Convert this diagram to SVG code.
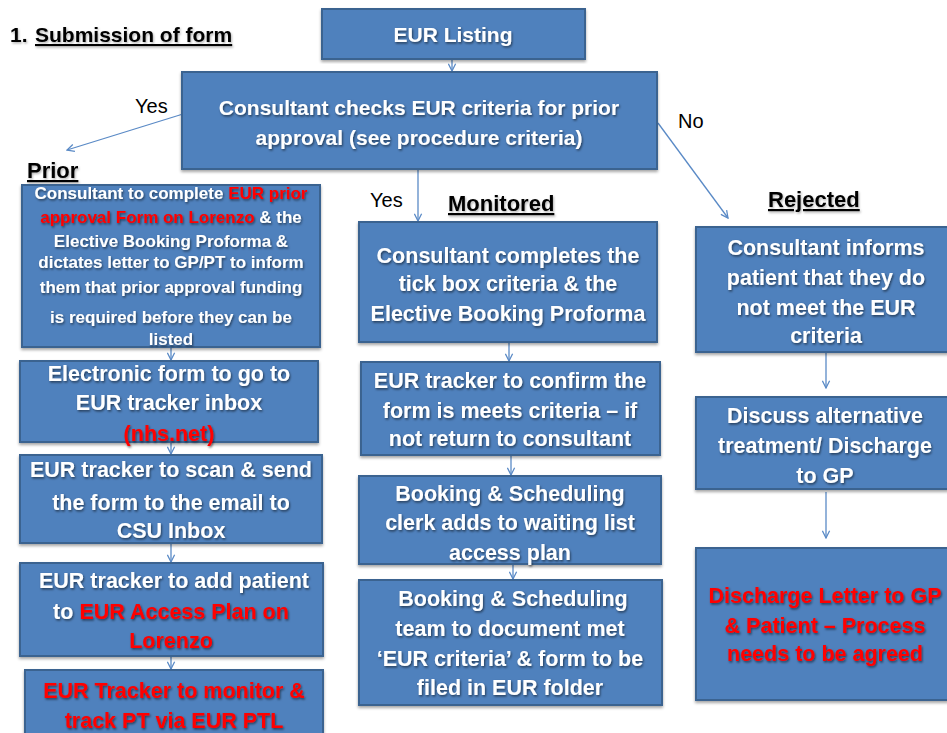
<svg xmlns="http://www.w3.org/2000/svg" width="947" height="733" viewBox="0 0 947 733">
<style>
.box{fill:#4F81BD;stroke:#3A6390;stroke-width:2}
.t{font-family:"Liberation Sans",Arial,sans-serif;font-weight:bold;fill:#fff;text-anchor:middle;filter:url(#ts)}
.r{fill:#F00}
.lbl{font-family:"Liberation Sans",Arial,sans-serif;font-size:20px;fill:#000}
.hd{font-family:"Liberation Sans",Arial,sans-serif;font-size:22px;font-weight:bold;fill:#000;text-decoration:underline;filter:url(#ts2)}
.c{fill:none;stroke:#5A8AC6;stroke-width:1.3;marker-end:url(#ah)}
</style>
<defs>
<marker id="ah" viewBox="0 0 10 10" refX="9" refY="5" markerWidth="9" markerHeight="9" orient="auto" markerUnits="userSpaceOnUse">
<path d="M1,1 L9,5 L1,9" fill="none" stroke="#5A8AC6" stroke-width="1.4"/>
</marker>
<filter id="ts" x="-10%" y="-30%" width="120%" height="160%"><feDropShadow dx="1" dy="1.5" stdDeviation="0.8" flood-color="#000" flood-opacity="0.55"/></filter>
<filter id="ts2" x="-10%" y="-30%" width="120%" height="160%"><feDropShadow dx="1" dy="1.5" stdDeviation="0.8" flood-color="#000" flood-opacity="0.3"/></filter>
<filter id="bs" x="-5%" y="-5%" width="110%" height="115%"><feDropShadow dx="0" dy="2" stdDeviation="1.5" flood-color="#000" flood-opacity="0.35"/></filter>
</defs>
<rect width="947" height="733" fill="#fff"/>
<text class="hd" x="10" y="42" font-size="21" style="text-decoration:none;font-size:21px">1.</text>
<text class="hd" x="35" y="42" style="font-size:21px">Submission of form</text>
<text class="lbl" x="135" y="113">Yes</text>
<text class="lbl" x="678" y="128">No</text>
<text class="lbl" x="370" y="207">Yes</text>
<text class="hd" x="27" y="178">Prior</text>
<text class="hd" x="448" y="211">Monitored</text>
<text class="hd" x="768" y="207">Rejected</text>
<g id="connectors">
<path class="c" d="M452,59 V71"/>
<path class="c" d="M183,114 L67,150"/>
<path class="c" d="M418,169 V221"/>
<path class="c" d="M658,123 L728,218"/>
<path class="c" d="M171,347 V360"/>
<path class="c" d="M171,442 V454"/>
<path class="c" d="M171,543 V562"/>
<path class="c" d="M171,656 V669"/>
<path class="c" d="M509,342 V361"/>
<path class="c" d="M511,455 V475"/>
<path class="c" d="M513,564 V579"/>
<path class="c" d="M826,352 V388"/>
<path class="c" d="M826,492 V538"/>
</g>
<g id="n_listing"><rect class="box" x="322" y="9" width="263" height="50" filter="url(#bs)"/><text class="t" x="453" y="42" font-size="21">EUR Listing</text></g>
<g id="n_check"><rect class="box" x="182" y="72" width="475" height="97" filter="url(#bs)"/>
<text class="t" x="419" y="115" font-size="21">Consultant checks EUR criteria for prior</text>
<text class="t" x="419" y="145" font-size="21">approval (see procedure criteria)</text></g>
<g id="n_prior1"><rect class="box" x="22" y="185" width="298" height="162" filter="url(#bs)"/>
<g class="t" font-size="17">
<text x="171" y="199">Consultant to complete <tspan class="r">EUR prior</tspan></text>
<text x="171" y="223"><tspan class="r">approval Form on Lorenzo</tspan> &amp; the</text>
<text x="171" y="247">Elective Booking  Proforma  &amp;</text>
<text x="171" y="268">dictates letter to GP/PT to inform</text>
<text x="171" y="293">them that prior approval  funding</text>
<text x="171" y="323">is required before they can be</text>
<text x="171" y="345">listed</text></g></g>
<g id="n_prior2"><rect class="box" x="20" y="361" width="298" height="81" filter="url(#bs)"/>
<g class="t" font-size="21.5"><text x="169" y="381">Electronic form to go to</text><text x="169" y="410">EUR tracker inbox</text><text x="169" y="441" class="r">(nhs.net)</text></g></g>
<g id="n_prior3"><rect class="box" x="20" y="455" width="302" height="88" filter="url(#bs)"/>
<g class="t" font-size="21.5"><text x="171" y="477">EUR tracker to scan &amp; send</text><text x="171" y="510">the form to the email to</text><text x="171" y="538">CSU Inbox</text></g></g>
<g id="n_prior4"><rect class="box" x="20" y="563" width="303" height="93" filter="url(#bs)"/>
<g class="t" font-size="21.5"><text x="174" y="588">EUR tracker to add patient</text><text x="171" y="619">to <tspan class="r">EUR  Access Plan on</tspan></text><text x="171" y="648" class="r">Lorenzo</text></g></g>
<g id="n_prior5"><rect class="box" x="25" y="670" width="298" height="80" filter="url(#bs)"/>
<g class="t" font-size="21.5"><text x="174" y="698" class="r">EUR Tracker to monitor &amp;</text><text x="174" y="728" class="r">track PT via  EUR PTL</text></g></g>
<g id="n_mon1"><rect class="box" x="359" y="222" width="298" height="120" filter="url(#bs)"/>
<g class="t" font-size="21.5"><text x="508" y="263">Consultant completes the</text><text x="508" y="291">tick box criteria &amp; the</text><text x="508" y="321">Elective Booking Proforma</text></g></g>
<g id="n_mon2"><rect class="box" x="361" y="362" width="299" height="93" filter="url(#bs)"/>
<g class="t" font-size="21.5"><text x="510" y="388">EUR tracker to confirm the</text><text x="510" y="418">form is meets criteria – if</text><text x="510" y="446">not return to consultant</text></g></g>
<g id="n_mon3"><rect class="box" x="359" y="476" width="302" height="88" filter="url(#bs)"/>
<g class="t" font-size="21.5"><text x="510" y="501">Booking &amp; Scheduling</text><text x="510" y="530">clerk adds to waiting list</text><text x="510" y="560">access plan</text></g></g>
<g id="n_mon4"><rect class="box" x="359" y="580" width="303" height="125" filter="url(#bs)"/>
<g class="t" font-size="21.5"><text x="513" y="606">Booking &amp; Scheduling</text><text x="510" y="636">team to document met</text><text x="510" y="666">‘EUR criteria’ &amp; form to be</text><text x="510" y="695">filed in EUR folder</text></g></g>
<g id="n_rej1"><rect class="box" x="696" y="227" width="252" height="125" filter="url(#bs)"/>
<g class="t" font-size="21.5"><text x="826" y="255">Consultant informs</text><text x="826" y="285">patient that they do</text><text x="826" y="315">not meet the EUR</text><text x="826" y="343">criteria</text></g></g>
<g id="n_rej2"><rect class="box" x="696" y="397" width="252" height="92" filter="url(#bs)"/>
<g class="t" font-size="21.5"><text x="825" y="423">Discuss alternative</text><text x="825" y="453">treatment/ Discharge</text><text x="825" y="483">to GP</text></g></g>
<g id="n_rej3"><rect class="box" x="696" y="548" width="252" height="152" filter="url(#bs)"/>
<g class="t" font-size="21.5"><text x="825" y="603" class="r">Discharge Letter to GP</text><text x="825" y="633" class="r">&amp; Patient – Process</text><text x="825" y="661" class="r">needs to be agreed</text></g></g>
</svg>
